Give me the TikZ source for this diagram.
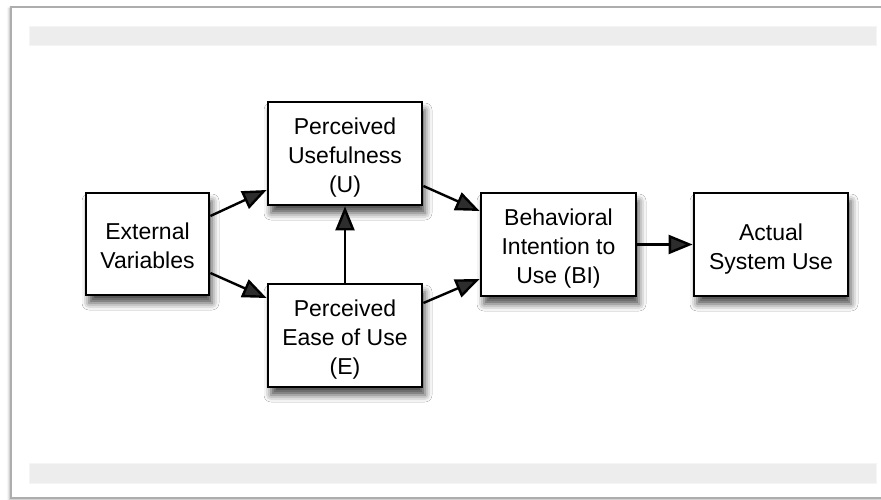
\documentclass[tikz,border=0pt]{standalone}
\usepackage{fontspec}
\setmainfont{Liberation Sans}
\usetikzlibrary{arrows.meta,shadows.blur}

% centred lines of a box, set a little below the box's middle
\newcommand\boxlines[1]{\raisebox{-4.5pt}[\height][\depth]{\begin{tabular}{@{}c@{}}#1\end{tabular}}}

\tikzset{
  box/.style={draw=black, line width=2.8pt, fill=white, inner sep=0pt,
    font=\fontsize{23}{29}\selectfont,
    blur shadow={shadow xshift=3pt, shadow yshift=-8pt,
      shadow blur radius=7pt, shadow opacity=70}},
  arr/.style={line width=2.4pt, -{Triangle[length=24pt,width=19pt]}},
  bar/.style={fill=black!7, draw=black!4, line width=0.8pt},
  frame/.style={fill=white, draw=black!32, line width=1.8pt,
    blur shadow={shadow xshift=-1.5pt, shadow yshift=-1.5pt,
      shadow blur radius=2.5pt, shadow opacity=35}}
}

\begin{document}
\begin{tikzpicture}[x=1pt, y=-1pt]
  \useasboundingbox (0,0) rectangle (881,500);

  % page frame and the two grey bands
  \path[frame] (11,7) rectangle (900,498);
  \path[bar] (29,26) rectangle (876,45);
  \path[bar] (29,463) rectangle (876,483);

  % boxes
  \node[box, minimum width=123pt, minimum height=102pt] (EV) at (147.5,244)
    {\boxlines{External\\Variables}};
  \node[box, minimum width=154pt, minimum height=103pt] (PU) at (345,153.5)
    {\boxlines{Perceived\\Usefulness\\(U)}};
  \node[box, minimum width=154pt, minimum height=103pt] (PE) at (345,335.5)
    {\boxlines{Perceived\\Ease of Use\\(E)}};
  \node[box, minimum width=155pt, minimum height=103pt] (BI) at (558.5,244.5)
    {\boxlines{Behavioral\\Intention to\\Use (BI)}};
  \node[box, minimum width=154pt, minimum height=103pt] (AS) at (771,244.5)
    {\boxlines{Actual\\System Use}};

  % connectors
  \draw[arr] ([yshift=28pt]EV.east) -- ([yshift=-36.5pt]PU.west);
  \draw[arr] ([yshift=-29pt]EV.east) -- ([yshift=37.5pt]PE.west);
  \draw[arr] (PE.north) -- (PU.south);
  \draw[arr] ([yshift=-32.5pt]PU.east) -- ([yshift=33.5pt]BI.west);
  \draw[arr] ([yshift=32.5pt]PE.east) -- ([yshift=-34.5pt]BI.west);
  \draw[arr] (BI.east) -- (AS.west);
\end{tikzpicture}
\end{document}
